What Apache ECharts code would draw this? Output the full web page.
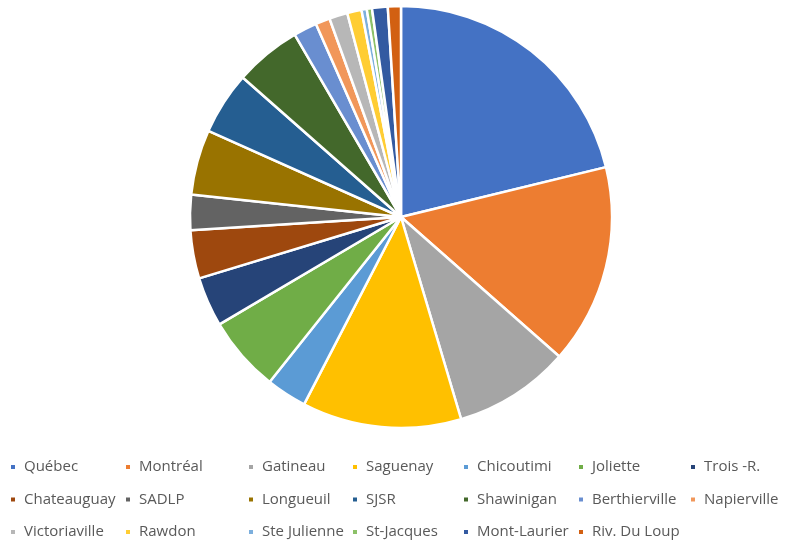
<!DOCTYPE html>
<html>
<head>
<meta charset="utf-8">
<script src="https://cdn.jsdelivr.net/npm/echarts@6/dist/echarts.min.js"></script>
<style>
html, body { margin: 0; padding: 0; background: #fff; }
#chart { width: 788px; height: 544px; }
</style>
</head>
<body>
<div id="chart"></div>
<script>
// villes (ordre des tranches, sens horaire depuis midi)
var categories = ['Québec', 'Montréal', 'Gatineau', 'Saguenay', 'Chicoutimi', 'Joliette', 'Trois -R.',
	'Chateauguay', 'SADLP', 'Longueuil', 'SJSR', 'Shawinigan', 'Berthierville', 'Napierville',
	'Victoriaville', 'Rawdon', 'Ste Julienne', 'St-Jacques', 'Mont-Laurier', 'Riv. Du Loup'];
// parts en %
var values = [21.2, 15.3, 8.9, 12.2, 3.1, 5.8, 3.8, 3.7, 2.7, 5.0, 4.8, 5.1, 1.8, 1.1, 1.4, 1.1, 0.4, 0.4, 1.2, 1.0];
var colors = ['#4472C4', '#ED7D31', '#A5A5A5', '#FFC000', '#5B9BD5', '#70AD47', '#264478',
	'#9E480E', '#636363', '#997300', '#255E91', '#43682B', '#698ED0', '#F1975A',
	'#B7B7B7', '#FFCD33', '#7CAFDD', '#8CC168', '#335AA1', '#D26012'];

var colLeft = [9, 124, 247, 351, 462, 577, 689]; // colonnes de la légende
var legends = [];
for (var c = 0; c < colLeft.length; c++) {
	var items = [];
	for (var i = c; i < categories.length; i += colLeft.length) items.push(categories[i]);
	legends.push({
		orient: 'vertical',
		left: colLeft[c],
		top: 459,
		padding: 0,
		itemGap: 16.5,
		itemWidth: 6,
		itemHeight: 6,
		icon: 'rect',
		selectedMode: false,
		textStyle: { color: '#595959', fontSize: 15, fontFamily: 'Open Sans', lineHeight: 16, padding: [0, 0, 0, 3] },
		data: items
	});
}

var pieData = [];
for (var k = 0; k < categories.length; k++) {
	pieData.push({ name: categories[k], value: values[k] });
}

var chart = echarts.init(document.getElementById('chart'));
chart.setOption({
	animation: false,
	color: colors,
	legend: legends,
	series: [{
		type: 'pie',
		center: [401, 217],
		radius: [0, 211],
		startAngle: 90,
		clockwise: true,
		avoidLabelOverlap: false,
		label: { show: false },
		labelLine: { show: false },
		emphasis: { disabled: true },
		itemStyle: { borderColor: '#fff', borderWidth: 2.5 },
		data: pieData
	}]
});
</script>
</body>
</html>
